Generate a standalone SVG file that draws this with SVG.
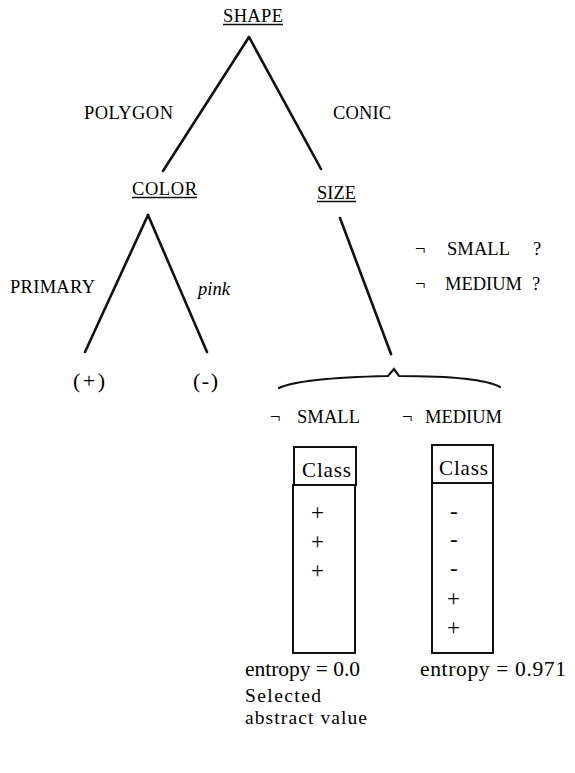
<svg xmlns="http://www.w3.org/2000/svg" width="575" height="773" viewBox="0 0 575 773">
<rect width="575" height="773" fill="#fff"/>
<g id="connectors" stroke="#111" fill="none" stroke-linecap="round" stroke-width="2.6">
<path d="M249,37 L163,171"/>
<path d="M249,37 L321,169"/>
<path d="M148,215 L85,352"/>
<path d="M148,215 L207,352"/>
<path d="M340,218 L391,354"/>
<path stroke-width="2.2" d="M279,388 Q300,378 388,376 L394,369 L399,376 Q480,376 500,387"/>
</g>
<g id="edge-labels">
<text font-family="Liberation Serif" font-size="18.5" x="84" y="119" textLength="89">POLYGON</text>
<text font-family="Liberation Serif" font-size="18.5" x="333" y="119" textLength="58">CONIC</text>
<text font-family="Liberation Serif" font-size="18.5" x="10" y="293" textLength="85">PRIMARY</text>
<text font-family="Liberation Serif" font-size="18.5" font-style="italic" x="198" y="295">pink</text>
<text font-family="Liberation Serif" font-size="18.5" x="415" y="255">¬</text>
<text font-family="Liberation Serif" font-size="18.5" x="447" y="255" textLength="63">SMALL</text>
<text font-family="Liberation Serif" font-size="18.5" x="533" y="255">?</text>
<text font-family="Liberation Serif" font-size="18.5" x="415" y="290">¬</text>
<text font-family="Liberation Serif" font-size="18.5" x="445" y="290" textLength="77">MEDIUM</text>
<text font-family="Liberation Serif" font-size="18.5" x="532" y="290">?</text>
</g>
<g id="node-shape">
<text font-family="Liberation Serif" font-size="18.5" x="223" y="22" textLength="60">SHAPE</text>
<line stroke="#111" stroke-width="1.3" x1="223" y1="24.5" x2="283" y2="24.5"/>
</g>
<g id="node-color">
<text font-family="Liberation Serif" font-size="18.5" x="132" y="195" textLength="65">COLOR</text>
<line stroke="#111" stroke-width="1.3" x1="132" y1="197.5" x2="197" y2="197.5"/>
</g>
<g id="node-size">
<text font-family="Liberation Serif" font-size="18.5" x="317" y="199" textLength="39">SIZE</text>
<line stroke="#111" stroke-width="1.3" x1="317" y1="201.5" x2="356" y2="201.5"/>
</g>
<g id="leaf-plus">
<text font-family="Liberation Serif" font-size="22" x="73" y="388" textLength="32">(+)</text>
</g>
<g id="leaf-minus">
<text font-family="Liberation Serif" font-size="22" x="193" y="388" textLength="25">(-)</text>
</g>
<g id="table-small">
<text font-family="Liberation Serif" font-size="18.5" x="270" y="423">¬</text>
<text font-family="Liberation Serif" font-size="18.5" x="297" y="423" textLength="63">SMALL</text>
<rect fill="none" stroke="#111" stroke-width="2" x="294" y="447" width="62" height="38"/>
<text font-family="Liberation Serif" font-size="21" x="302" y="477" textLength="49">Class</text>
<rect fill="none" stroke="#111" stroke-width="2" x="293" y="485" width="62" height="168"/>
<text font-family="Liberation Serif" font-size="23" x="311" y="520">+</text>
<text font-family="Liberation Serif" font-size="23" x="311" y="549">+</text>
<text font-family="Liberation Serif" font-size="23" x="311" y="578">+</text>
<text font-family="Liberation Serif" font-size="21.5" x="245" y="676" textLength="115">entropy = 0.0</text>
<text font-family="Liberation Serif" font-size="19.5" x="245" y="702" textLength="76">Selected</text>
<text font-family="Liberation Serif" font-size="19.5" x="245" y="724" textLength="122">abstract value</text>
</g>
<g id="table-medium">
<text font-family="Liberation Serif" font-size="18.5" x="402" y="423">¬</text>
<text font-family="Liberation Serif" font-size="18.5" x="425" y="423" textLength="77">MEDIUM</text>
<rect fill="none" stroke="#111" stroke-width="2" x="432" y="445" width="61" height="38"/>
<text font-family="Liberation Serif" font-size="21" x="439" y="475" textLength="49">Class</text>
<rect fill="none" stroke="#111" stroke-width="2" x="432" y="483" width="61" height="170"/>
<text font-family="Liberation Serif" font-size="23" x="450" y="519">-</text>
<text font-family="Liberation Serif" font-size="23" x="450" y="547">-</text>
<text font-family="Liberation Serif" font-size="23" x="450" y="576">-</text>
<text font-family="Liberation Serif" font-size="23" x="447" y="606">+</text>
<text font-family="Liberation Serif" font-size="23" x="447" y="635">+</text>
<text font-family="Liberation Serif" font-size="21.5" x="420" y="676" textLength="146">entropy = 0.971</text>
</g>
</svg>
